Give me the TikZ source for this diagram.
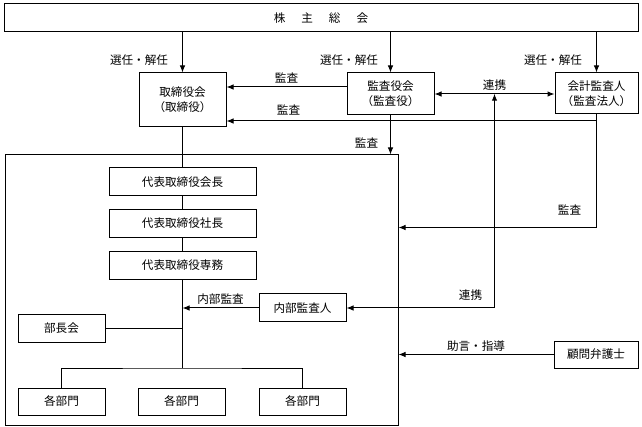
\documentclass[tikz,border=0pt]{standalone}
\usepackage{fontspec}
\setmainfont{Noto Sans CJK JP}
\usetikzlibrary{arrows.meta,calc}

\begin{document}
\begin{tikzpicture}[x=1pt,y=-1pt,line width=1pt,
  >={Latex[length=7pt,width=5.5pt]},
  box/.style={draw,align=center,inner sep=0pt,font=\fontsize{11.6}{15}\selectfont},
  lbl/.style={font=\fontsize{11.6}{15}\selectfont,inner sep=1pt}]
\useasboundingbox (0,0) rectangle (642,427);
% top and outer frames
\node[box,minimum width=634,minimum height=28] (gm) at (321,18) {株\hspace{16pt}主\hspace{16pt}総\hspace{16pt}会};
\node[draw,minimum width=393,minimum height=270] (co) at (201.5,290) {};
\node[box,minimum width=87,minimum height=54] (bod) at (182.5,100) {取締役会\\（取締役）};
\node[box,minimum width=87,minimum height=42] (kan) at (390.5,94) {監査役会\\（監査役）};
\node[box,minimum width=83,minimum height=41] (acc) at (596.5,93.5) {会計監査人\\（監査法人）};
\node[box,minimum width=147,minimum height=28] (chair) at (182.5,182) {代表取締役会長};
\node[box,minimum width=147,minimum height=28] (pres) at (182.5,223.5) {代表取締役社長};
\node[box,minimum width=147,minimum height=28] (senm) at (182.5,265.5) {代表取締役専務};
\node[box,minimum width=87,minimum height=28] (audit) at (302.5,308) {内部監査人};
\node[box,minimum width=87,minimum height=27] (buch) at (61.5,328.5) {部長会};
\node[box,minimum width=87,minimum height=27] (dept1) at (61.5,401.5) {各部門};
\node[box,minimum width=87,minimum height=27] (dept2) at (181.5,401.5) {各部門};
\node[box,minimum width=87,minimum height=27] (dept3) at (302.5,401.5) {各部門};
\node[box,minimum width=84,minimum height=27] (lawyer) at (596,354.5) {顧問弁護士};
\coordinate (hub) at ($(senm.south)+(0,88)$);
\coordinate (rk) at ($(kan.east)!0.5!(acc.west)$);
\coordinate (k1) at ($(co.north east)+(0,73)$);
% election
\draw[->] (bod.north |- gm.south) -- (bod.north);
\draw[->] (kan.north |- gm.south) -- (kan.north);
\draw[->] (acc.north |- gm.south) -- (acc.north);
\node[lbl,anchor=east] (e1) at ($(bod.north)+(-13,-12)$) {選任・解任};
\node[lbl,anchor=east] (e2) at ($(kan.north)+(-11,-12)$) {選任・解任};
\node[lbl,anchor=east] (e3) at ($(acc.north)+(-13,-12)$) {選任・解任};
% audit lines
\draw[->] ($(kan.west)+(0,-7)$) -- node[lbl,above=2pt]{監査} ($(bod.east)+(0,-13)$);
\draw[->] (acc.south) |- ($(bod.east)+(0,21)$);
\node[lbl] (l2) at ($(bod.east)+(62,10)$) {監査};
\draw[->] (kan.south) -- (kan.south |- co.north);
\node[lbl] (l3) at ($(kan.south)+(-24,27)$) {監査};
\draw[->] (acc.south) |- (k1);
\node[lbl] (l4) at ($(acc.south |- k1)+(-27,-18)$) {監査};
\draw[<->] (kan.east) -- node[lbl,above=2pt]{連携} (kan.east -| acc.west);
\draw[<->] (audit.east) -| (rk);
\node[lbl] (l5) at ($(audit.east -| rk)+(-24,-13)$) {連携};
% company
\draw (bod.south) -- (chair.north);
\draw (chair.south) -- (pres.north);
\draw (pres.south) -- (senm.north);
\draw (senm.south) -- (hub);
\draw[->] (audit.west) -- node[lbl,above=2pt]{内部監査} (audit.west -| senm.south);
\draw (buch.east) -- (buch.east -| senm.south);
\draw (dept1.north) |- (hub) -| (dept3.north);
\draw[->] (lawyer.west) -- node[lbl,above=2pt]{助言・指導} (lawyer.west -| co.east);
\end{tikzpicture}
\end{document}
